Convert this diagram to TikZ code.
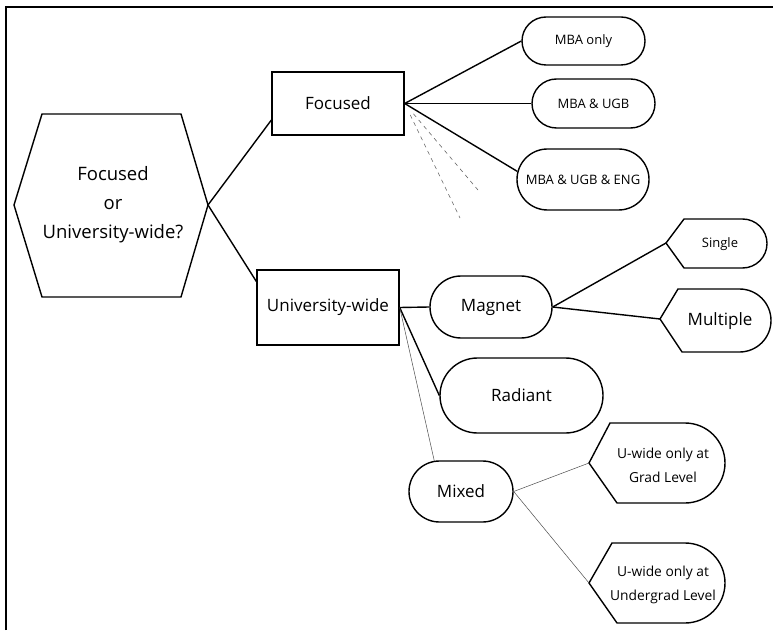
\documentclass[tikz,border=0pt]{standalone}
\usepackage{fontspec}
\setmainfont{Open Sans}
\usetikzlibrary{shapes.misc,calc}
\begin{document}
\begin{tikzpicture}[x=1pt,y=1pt,
  shapeline/.style={draw, line width=1.4pt},
  boxnode/.style={rectangle, shapeline, inner sep=0pt},
  pill/.style={rounded rectangle, shapeline, inner sep=0pt},
  hextext/.style={font=\fontsize{18.5}{29}\selectfont, align=center},
  big/.style={font=\fontsize{17}{20}\selectfont},
  small/.style={font=\fontsize{13}{15}\selectfont},
  twoline/.style={font=\fontsize{13.8}{24}\selectfont, align=center},
  link/.style={line width=1.4pt},
  thinlink/.style={line width=0.5pt, black!70},
  dashlink/.style={line width=0.6pt, black!60, dash pattern=on 4pt off 4pt}]
\useasboundingbox (0,0) rectangle (773,630);
% frame
\draw[line width=2.2pt] (6,0) -- (6,623) -- (773,623);
% hexagon
\draw[shapeline] (14,425) -- (42,516) -- (181,516) -- (208,425) -- (181,333) -- (42,333) -- cycle;
\coordinate (hexR) at (208,425);
\node[hextext] (hex) at (113,425) {Focused\\or\\University-wide?};
% level 1
\node[boxnode, minimum width=132pt, minimum height=63pt, big] (foc) at (338,526.5) {Focused};
\node[boxnode, minimum width=142pt, minimum height=75pt, big] (uw) at (328,322.5) {University-wide};
% focused children
\node[pill, minimum width=123pt, minimum height=48pt, small] (mba) at (583.5,589) {MBA only};
\node[pill, minimum width=123pt, minimum height=49pt, small] (ugb) at (593.5,526.5) {MBA \& UGB};
\node[pill, minimum width=132pt, minimum height=61pt, small] (eng) at (583,450.5) {MBA \& UGB \& ENG};
\coordinate (d1) at (478,440);
\coordinate (d2) at (460,412);
% university-wide children
\node[pill, minimum width=122pt, minimum height=62pt, big] (mag) at (491,323) {Magnet};
\node[pill, minimum width=163pt, minimum height=75pt, big] (rad) at (521.5,234.5) {Radiant};
\node[pill, minimum width=104pt, minimum height=61pt, big] (mix) at (461,138.5) {Mixed};
% magnet children
\draw[shapeline] (666,387) -- (684,411) -- (742.5,411) arc[start angle=90, end angle=-90, radius=24.5] -- (684,362) -- cycle;
\coordinate (sglL) at (666,387);
\node[small] (sgl) at (720,386) {Single};
\draw[shapeline] (660,311) -- (678,341) -- (739.5,341) arc[start angle=90, end angle=-90, radius=31.5] -- (682,278) -- cycle;
\coordinate (mulL) at (660,311);
\node[big] (mul) at (720,309) {Multiple};
% mixed children
\draw[shapeline] (589,167) -- (610,207) -- (685,207) arc[start angle=90, end angle=-90, radius=40] -- (617,127) -- cycle;
\coordinate (gradL) at (589,167);
\node[twoline] (grad) at (663,165) {U-wide only at\\Grad Level};
\draw[shapeline] (589,47) -- (612,87) -- (685,87) arc[start angle=90, end angle=-90, radius=40] -- (617,7) -- cycle;
\coordinate (ugL) at (589,47);
\node[twoline] (ug) at (663,45) {U-wide only at\\Undergrad Level};
% connectors
\draw[link] (hexR) -- (foc.194);
\draw[link] (hexR) -- (uw.160);
\draw[link] (foc.east) -- (mba.west);
\draw[link] (foc.east) -- (ugb.west);
\draw[link] (foc.east) -- (eng.173);
\draw[dashlink] ($(foc.east)!0.12!(d1)$) -- (d1);
\draw[dashlink] ($(foc.east)!0.1!(d2)$) -- (d2);
\draw[link] (uw.east) -- (mag.west);
\draw[link] (uw.east) -- (rad.west);
\draw[thinlink] (uw.east) -- (mix.131);
\draw[link] (mag.east) -- (sglL);
\draw[link] (mag.east) -- (mulL);
\draw[thinlink] (mix.east) -- (gradL);
\draw[thinlink] (mix.east) -- (ugL);
\end{tikzpicture}
\end{document}
